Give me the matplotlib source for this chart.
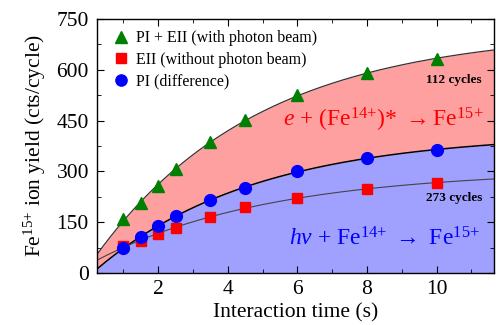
import matplotlib
matplotlib.use('Agg')
import matplotlib.pyplot as plt
import numpy as np
from matplotlib.ticker import MultipleLocator

# measured yields (cts/cycle) vs interaction time (s)
time_s = [1, 1.5, 2, 2.5, 3.5, 4.5, 6, 8, 10]
pi_eii = [159, 207, 257, 307, 387, 452, 526, 590, 632]
eii = [80, 94, 115, 133, 165, 195, 222, 248, 266]
pi = [74, 106, 139, 168, 216, 251, 301, 340, 363]


def fit_saturation(t, y):
    """
    Fits y = c + a * (1 - exp(-t / tau)) with a tau grid search
    """
    t = np.asarray(t, float)
    y = np.asarray(y, float)
    best = None
    for tau in np.linspace(0.5, 30, 600):
        A = np.column_stack([np.ones_like(t), 1 - np.exp(-t / tau)])
        coef, res, _, _ = np.linalg.lstsq(A, y, rcond=None)
        err = np.sum((A @ coef - y) ** 2)
        if best is None or err < best[0]:
            best = (err, tau, coef)
    _, tau, (c, a) = best
    return lambda x: c + a * (1 - np.exp(-x / tau))


plt.rcParams['font.family'] = ['Liberation Serif', 'DejaVu Serif']
plt.rcParams['mathtext.fontset'] = 'custom'
plt.rcParams['mathtext.rm'] = 'Liberation Serif'
plt.rcParams['mathtext.it'] = 'Liberation Serif:italic'
plt.rcParams['mathtext.bf'] = 'Liberation Serif:bold'

fig = plt.figure(figsize=(4.96, 3.25), dpi=100)
ax = fig.add_axes([0.196, 0.16, 0.8, 0.7815])

xs = np.linspace(0.25, 11.65, 300)
f_eii = fit_saturation(time_s, eii)
f_pi = fit_saturation(time_s, pi)
f_tot = fit_saturation(time_s, pi_eii)

ax.fill_between(xs, 0, f_pi(xs), color='#a0a0ff', lw=0, zorder=1)
ax.fill_between(xs, f_pi(xs), f_tot(xs), color='#ffa0a0', lw=0, zorder=1)
ax.plot(xs, f_tot(xs), color='#333333', lw=0.9, zorder=2)
ax.plot(xs, f_pi(xs), color='black', lw=1.1, zorder=2)
ax.plot(xs, f_eii(xs), color='#444444', lw=0.8, zorder=2)

ax.plot(time_s, pi_eii, '^', color='#008000', ms=9, ls='none', label='PI + EII (with photon beam)', zorder=3)
ax.plot(time_s, eii, 's', color='#ff0000', ms=7.5, ls='none', label='EII (without photon beam)', zorder=3)
ax.plot(time_s, pi, 'o', color='#0000ff', ms=8.5, ls='none', label='PI (difference)', zorder=3)

ax.text(9.7, 570, '112 cycles', fontsize=9.5, fontweight='bold', va='center', zorder=4)
ax.text(9.7, 222, '273 cycles', fontsize=9.5, fontweight='bold', va='center', zorder=4)
ax.text(11.35, 452, r'$e$ + (Fe$^{14{+}}$)* $\rightarrow$Fe$^{15{+}}$', color='#ff0000',
        fontsize=17, ha='right', va='center', zorder=4)
ax.text(11.25, 100, r'$h\nu$ + Fe$^{14{+}}$ $\rightarrow$ Fe$^{15{+}}$', color='#0000ff',
        fontsize=17, ha='right', va='center', zorder=4)

ax.set_xlim(0.25, 11.65)
ax.set_ylim(0, 750)
ax.xaxis.set_major_locator(MultipleLocator(2))
ax.xaxis.set_minor_locator(MultipleLocator(1))
ax.yaxis.set_major_locator(MultipleLocator(150))
ax.yaxis.set_minor_locator(MultipleLocator(75))
ax.tick_params(which='both', direction='in', top=True, right=True, labelsize=15.5)
ax.tick_params(axis='y', pad=6)
ax.tick_params(axis='x', pad=5)
ax.tick_params(which='major', length=5)
ax.tick_params(which='minor', length=3)
for s in ax.spines.values():
    s.set_linewidth(1.0)

ax.set_xlabel('Interaction time (s)', fontsize=15.5, labelpad=3)
ax.set_ylabel(r'Fe$^{15{+}}$ ion yield (cts/cycle)', fontsize=15.5, labelpad=6)

ax.legend(loc='upper left', frameon=False, fontsize=11.5, handletextpad=0.1,
          labelspacing=0.35, borderaxespad=0.3, handlelength=1.6, markerscale=0.95)

fig.savefig('out.png', dpi=100)
